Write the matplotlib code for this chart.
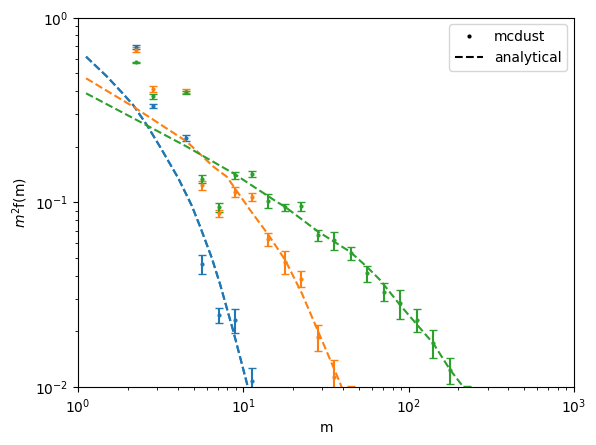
import matplotlib
matplotlib.use("Agg")
import matplotlib.pyplot as plt
from matplotlib.lines import Line2D

# mass bin centres (mcdust)
m_bins = [2.24, 2.82, 4.47, 5.62, 7.08, 8.91, 11.2, 14.1, 17.8, 22.4,
          28.2, 35.5, 44.7, 56.2, 70.8, 89.1, 112, 141, 178, 224]

# series 1 (blue)
blue_y = [0.69, 0.332, 0.223, 0.0463, 0.0245, 0.0231, 0.0108]
blue_err = [0.016, 0.01, 0.008, 0.0055, 0.0024, 0.0035, 0.0019]

# series 2 (orange)
orange_y = [0.67, 0.409, 0.40, 0.124, 0.0871, 0.114, 0.107, 0.063, 0.0477,
            0.0387, 0.0187, 0.0114, 0.0088]
orange_err = [0.02, 0.015, 0.01, 0.007, 0.004, 0.0075, 0.005, 0.005, 0.007,
              0.004, 0.003, 0.0027, 0.0014]

# series 3 (green)
green_y = [0.572, 0.376, 0.393, 0.134, 0.094, 0.140, 0.142, 0.102, 0.094,
           0.095, 0.0665, 0.0625, 0.053, 0.0412, 0.0328, 0.0284, 0.0232,
           0.0173, 0.0124, 0.0088]
green_err = [0.006, 0.012, 0.008, 0.006, 0.005, 0.006, 0.005, 0.0085, 0.0045,
             0.005, 0.0045, 0.007, 0.0045, 0.004, 0.0037, 0.005, 0.0033,
             0.003, 0.002, 0.0013]

# analytical curves
blue_curve_m = [1.118, 1.5, 1.88, 2.16, 2.6, 3.13, 4.04, 4.87, 5.47, 6.44, 7.23, 8.70, 10.5, 11.5]
blue_curve_y = [0.614, 0.478, 0.385, 0.335, 0.263, 0.200, 0.135, 0.096, 0.074, 0.050, 0.036, 0.020, 0.0105, 0.0072]

orange_curve_m = [1.118, 2.16, 4.55, 6.58, 7.94, 10.98, 14.2, 17.9, 22.6, 28.4, 38.5, 42.0]
orange_curve_y = [0.469, 0.329, 0.213, 0.156, 0.1375, 0.0908, 0.0665, 0.0487, 0.0321, 0.0199, 0.0105, 0.0085]

green_curve_m = [1.118, 2.26, 4.55, 8.70, 15.9, 17.9, 28.4, 44.2, 55.8, 67.1, 88.7, 141, 178, 209, 240]
green_curve_y = [0.389, 0.279, 0.2, 0.1435, 0.1007, 0.0944, 0.0693, 0.054, 0.0448, 0.038, 0.0278, 0.0172, 0.0124, 0.0103, 0.0085]

colors = ["#1f77b4", "#ff7f0e", "#2ca02c"]

fig, ax = plt.subplots(figsize=(6.4, 4.8), dpi=100)

series = [(blue_y, blue_err), (orange_y, orange_err), (green_y, green_err)]
curves = [(blue_curve_m, blue_curve_y), (orange_curve_m, orange_curve_y),
          (green_curve_m, green_curve_y)]

for i, ((y, e), (cm, cy), c) in enumerate(zip(series, curves, colors)):
    ax.errorbar(m_bins[:len(y)], y, yerr=e, fmt='.', color=c, markersize=4,
                capsize=3)
    ax.plot(cm, cy, '--', color=c)
    if i == 0:
        ax.plot(cm, cy, '--', color=c)

ax.set_xscale('log')
ax.set_yscale('log')
ax.set_xlim(1, 1000)
ax.set_ylim(0.01, 1)
ax.set_xlabel('m')
ax.set_ylabel('$m^2$f(m)')

handles = [Line2D([], [], color='k', marker='.', ls='', markersize=4, label='mcdust'),
           Line2D([], [], color='k', ls='--', label='analytical')]
ax.legend(handles=handles, loc='upper right')

fig.savefig('out.png', dpi=100, bbox_inches='tight')
